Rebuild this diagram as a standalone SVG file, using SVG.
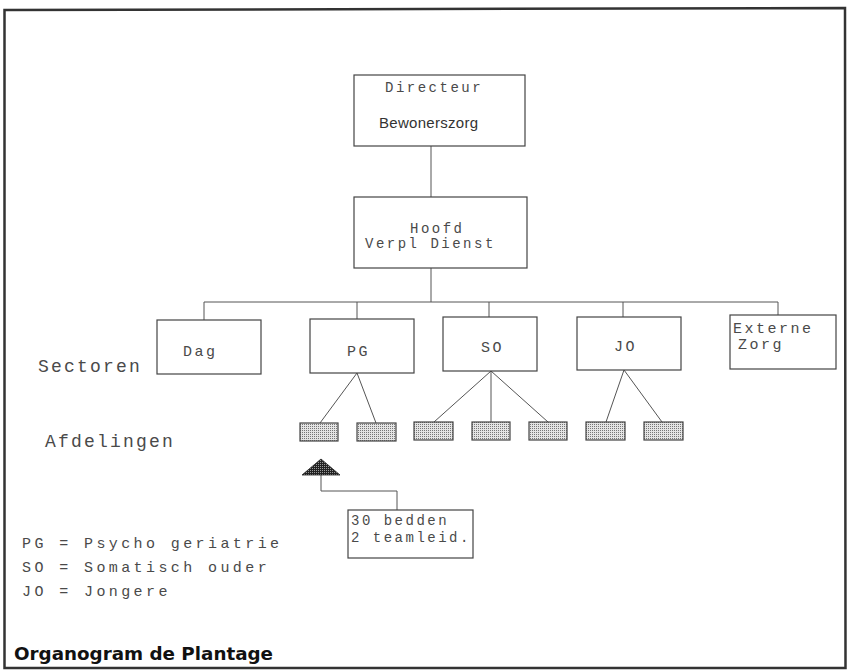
<svg xmlns="http://www.w3.org/2000/svg" width="849" height="671" viewBox="0 0 849 671">
<style>
.box{fill:#fff;stroke:#444;stroke-width:1.2}
.sub{fill:url(#dots);stroke:#444;stroke-width:1.2}
.ln{fill:none;stroke:#555;stroke-width:1}
.mono{font-family:"Liberation Mono","DejaVu Sans Mono",monospace;fill:#4a4a4a}
.m14{font-size:14px;letter-spacing:2.5px}
.m15{font-size:15px;letter-spacing:2.5px}
.m18{font-size:18px;letter-spacing:2.2px}
.leg{font-size:15px;letter-spacing:3.4px}
</style>
<defs>
<pattern id="dots" width="2" height="2" patternUnits="userSpaceOnUse">
<rect width="2" height="2" fill="#e4e4e4"/>
<rect width="1" height="1" fill="#777"/>
</pattern>
<pattern id="dark" width="2" height="2" patternUnits="userSpaceOnUse">
<rect width="2" height="2" fill="#222"/>
<rect width="1" height="1" fill="#999"/>
</pattern>
</defs>
<rect x="0" y="0" width="849" height="671" fill="#fff"/>
<path d="M4.5,10 L845,8 L845.5,668 L4.5,668 Z" fill="none" stroke="#333" stroke-width="2.5"/>

<g id="connectors">
<path class="ln" d="M431,146 V197"/>
<path class="ln" d="M431,268 V302"/>
<path class="ln" d="M204,320 V302 H778 V315"/>
<path class="ln" d="M357,302 V319"/>
<path class="ln" d="M489,302 V317"/>
<path class="ln" d="M623,302 V317"/>
<path class="ln" d="M357,373 L320,423 M357,373 L376,423"/>
<path class="ln" d="M491,371 L434,422 M491,371 V422 M491,371 L548,422"/>
<path class="ln" d="M624,370 L606,422 M624,370 L662,422"/>
<path class="ln" d="M321,475 V491 H397 V510"/>
</g>

<g id="directeur">
<rect class="box" x="354" y="75" width="171" height="71"/>
<text class="mono m14" x="385" y="92">Directeur</text>
<text x="379" y="128" font-family="Liberation Sans, Arial, sans-serif" font-size="15" fill="#333" textLength="99">Bewonerszorg</text>
</g>
<g id="hoofd">
<rect class="box" x="354" y="197" width="173" height="71"/>
<text class="mono m14" x="410" y="233">Hoofd</text>
<text class="mono m14" x="365" y="248">Verpl Dienst</text>
</g>
<g id="dag">
<rect class="box" x="157" y="320" width="104" height="54"/>
<text class="mono m15" x="183" y="356">Dag</text>
</g>
<g id="pg">
<rect class="box" x="310" y="319" width="104" height="54"/>
<text class="mono m15" x="347" y="356">PG</text>
</g>
<g id="so">
<rect class="box" x="443" y="317" width="94" height="54"/>
<text class="mono m15" x="481" y="352">SO</text>
</g>
<g id="jo">
<rect class="box" x="577" y="317" width="104" height="53"/>
<text class="mono m15" x="614" y="351">JO</text>
</g>
<g id="externe">
<rect class="box" x="730" y="315" width="106" height="54"/>
<text class="mono m15" x="733" y="333">Externe</text>
<text class="mono m15" x="738" y="349">Zorg</text>
</g>

<g id="afdelingen">
<rect class="sub" x="300" y="423" width="38" height="18"/>
<rect class="sub" x="357" y="423" width="39" height="18"/>
<rect class="sub" x="414" y="422" width="39" height="18"/>
<rect class="sub" x="472" y="422" width="38" height="18"/>
<rect class="sub" x="529" y="422" width="38" height="18"/>
<rect class="sub" x="586" y="422" width="39" height="18"/>
<rect class="sub" x="644" y="422" width="39" height="18"/>
</g>

<g id="marker">
<polygon points="321,459 302,475 340,475" fill="url(#dark)" stroke="#222" stroke-width="0.8"/>
</g>
<g id="bedden">
<rect class="box" x="348" y="510" width="125" height="48"/>
<text class="mono m14" x="351" y="525">30 bedden</text>
<text class="mono m14" x="351" y="542">2 teamleid.</text>
</g>

<g id="labels">
<text class="mono m18" x="38" y="372">Sectoren</text>
<text class="mono m18" x="45" y="447">Afdelingen</text>
<text class="mono leg" x="22" y="548">PG = Psycho geriatrie</text>
<text class="mono leg" x="22" y="572">SO = Somatisch ouder</text>
<text class="mono leg" x="22" y="596">JO = Jongere</text>
<text x="14" y="660" font-family="DejaVu Sans, Verdana, sans-serif" font-weight="bold" font-size="18.5" fill="#111" textLength="259" lengthAdjust="spacingAndGlyphs">Organogram de Plantage</text>
</g>
</svg>
